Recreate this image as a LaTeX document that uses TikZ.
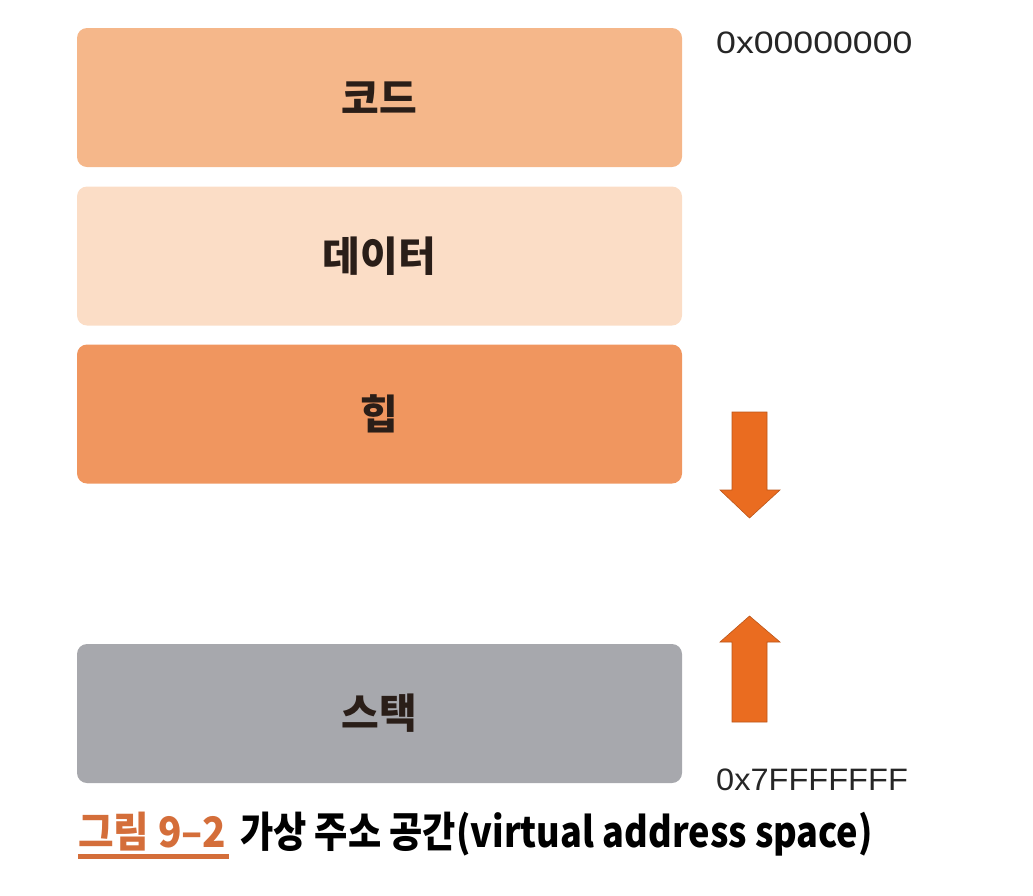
\documentclass[tikz,border=0pt]{standalone}
\usepackage{fontspec}
\newfontfamily\kr{Noto Sans CJK KR}
\newfontfamily\hexfont{Liberation Sans}
\definecolor{codec}{HTML}{F5B78A}
\definecolor{datac}{HTML}{FBDDC6}
\definecolor{heapc}{HTML}{F0965F}
\definecolor{stackc}{HTML}{A7A8AD}
\definecolor{arrowc}{HTML}{EA6C20}
\definecolor{captc}{HTML}{D46E3A}
\definecolor{labc}{HTML}{2A1E18}
\begin{document}
\begin{tikzpicture}[x=1pt,y=-1pt,
  seg/.style={rounded corners=10pt, minimum width=605pt, minimum height=139pt, inner sep=0pt,
    font=\kr\bfseries\fontsize{41}{41}\selectfont, text=labc},
  addr/.style={anchor=west, inner sep=0pt, font=\hexfont\fontsize{31}{31}\selectfont, text=black!85},
  capt/.style={anchor=base west, inner sep=0pt, font=\kr\bfseries\fontsize{42}{42}\selectfont},
  bigarrow/.style={fill=arrowc, draw=arrowc!80!black, line width=0.6pt, line join=miter}]
\useasboundingbox (0,0) rectangle (1033,895);
\node[seg, fill=codec] (code) at (379.5,97.5) {코드};
\node[seg, fill=datac] (data) at (379.5,256) {데이터};
\node[seg, fill=heapc] (heap) at (379.5,414) {힙};
\node[seg, fill=stackc] (stack) at (379.5,713.5) {스택};
\node[addr] (top) at (716,43) {\scalebox{1.15}[1]{0x00000000}};
\begin{scope}
\clip (700,740) rectangle (950,790);
\node[addr] (bottom) at (716,780) {\scalebox{1.05}[1]{0x7FFFFFFF}};
\end{scope}
% arrows
\draw[bigarrow] (732,412) -- (767,412) -- (767,490) -- (780,490) -- (749.5,518) -- (720,490) -- (732,490) -- cycle;
\draw[bigarrow] (732,722) -- (767,722) -- (767,642) -- (780,642) -- (749.5,616) -- (720,642) -- (732,642) -- cycle;
% caption
\node[capt, text=captc] (fig) at (78,847) {\scalebox{0.92}[1]{그림 9–2}};
\node[capt, text=black] (cap) at (240,847) {\scalebox{0.86}[1]{가상 주소 공간(virtual address space)}};
\fill[captc] (78,854) rectangle (229,859);
\end{tikzpicture}
\end{document}
